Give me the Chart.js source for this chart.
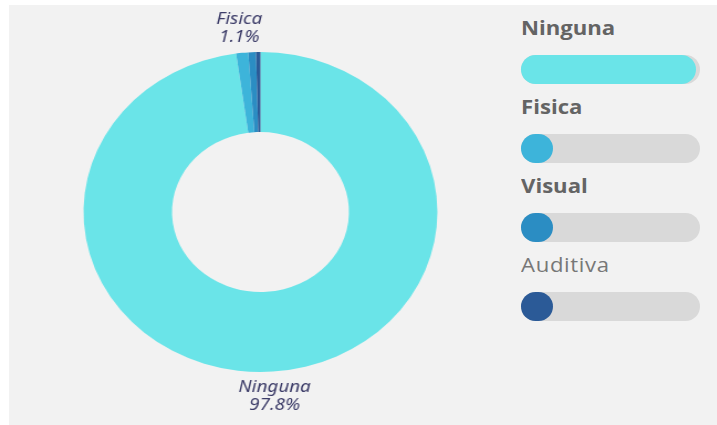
<!DOCTYPE html>
<html>
<head>
<meta charset="utf-8">
<script src="https://cdn.jsdelivr.net/npm/chart.js@4.4.0/dist/chart.umd.min.js"></script>
<style>
  body { margin: 0; background: #fff; width: 717px; height: 425px; overflow: hidden; font-family: "Open Sans", sans-serif; }
  .panel { position: absolute; left: 9px; top: 5px; right: 0; bottom: 0; background: #f2f2f2; }
  #chartWrap { position: absolute; left: 0; top: 0; width: 471px; height: 425px; transform: scaleX(1.106); transform-origin: 0 0; }
  #legend { position: absolute; left: 521px; top: 0; width: 179px; height: 425px; }
  .name { position: absolute; left: 0; font-size: 20px; font-weight: 700; color: #646464; line-height: 20px; white-space: nowrap; transform: scaleX(1.106); transform-origin: 0 0; }
  .item:last-child .name { font-weight: 400; color: #777; letter-spacing: 0.6px; }
  .track { position: absolute; left: 0; width: 179px; height: 29px; border-radius: 15px; background: #d9d9d9; }
  .fill { height: 29px; border-radius: 15px; min-width: 32px; }
</style>
</head>
<body>
<div class="panel"></div>
<div id="chartWrap"><canvas id="disChart" width="471" height="425"></canvas></div>
<div id="legend"></div>

<script>
// Discapacidad (share of people, %)
const categories = ['Ninguna', 'Fisica', 'Visual', 'Auditiva'];
const shares = [97.8, 1.1, 0.7, 0.4];

const sliceColors = ['#6ae4e8', '#3db4da', '#2b8dc3', '#2b5a97'];

// Labels outside the ring, only for slices big enough to read
const sliceLabels = {
    id: 'sliceLabels',
    afterDatasetsDraw(chart) {
        const ctx = chart.ctx;
        const data = chart.data.datasets[0].data;
        const total = data.reduce((a, b) => a + b, 0);
        chart.getDatasetMeta(0).data.forEach((arc, i) => {
            const pct = data[i] / total * 100;
            if (pct < 1) return;
            const p = arc.getProps(['x', 'y', 'startAngle', 'endAngle', 'outerRadius'], true);
            const mid = (p.startAngle + p.endAngle) / 2;
            const d = p.outerRadius + 25;
            const cx = p.x + Math.cos(mid) * d;
            const cy = p.y + Math.sin(mid) * d;
            ctx.save();
            ctx.fillStyle = '#3c3c68';
            ctx.font = 'italic 17px "Noto Sans"';
            ctx.textAlign = 'center';
            ctx.textBaseline = 'middle';
            ctx.fillText(chart.data.labels[i], cx, cy - 9);
            ctx.fillText(pct.toFixed(1) + '%', cx, cy + 9);
            ctx.restore();
        });
    }
};

// Legend on the right: name + progress bar per category
const htmlLegend = {
    id: 'htmlLegend',
    afterUpdate(chart) {
        const box = document.getElementById('legend');
        box.innerHTML = '';
        const ds = chart.data.datasets[0];
        const total = ds.data.reduce((a, b) => a + b, 0);
        chart.data.labels.forEach((label, i) => {
            const item = document.createElement('div');
            item.className = 'item';
            const top = 18 + i * 79;
            item.innerHTML =
                '<div class="name" style="top:' + top + 'px">' + label + '</div>' +
                '<div class="track" style="top:' + (top + 37) + 'px">' +
                '<div class="fill" style="width:' + (ds.data[i] / total * 100) + '%;background:' + ds.backgroundColor[i] + '"></div></div>';
            box.appendChild(item);
        });
    }
};

new Chart(document.getElementById('disChart'), {
    type: 'doughnut',
    data: {
        labels: categories,
        datasets: [{
            data: shares,
            backgroundColor: sliceColors,
            borderWidth: 0,
            hoverOffset: 0
        }]
    },
    options: {
        responsive: false,
        animation: false,
        cutout: '50%',
        layout: { padding: { top: 52, bottom: 53 } },
        plugins: {
            legend: { display: false },
            tooltip: { enabled: false }
        }
    },
    plugins: [sliceLabels, htmlLegend]
});
</script>
</body>
</html>
